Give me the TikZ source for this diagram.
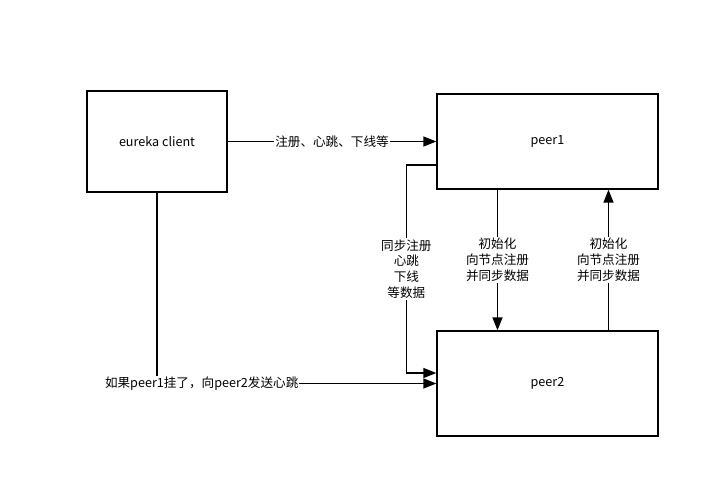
\documentclass[tikz,border=0pt]{standalone}
\usepackage{fontspec}
\setmainfont{Noto Sans CJK SC}
\usetikzlibrary{arrows.meta}
\begin{document}
\begin{tikzpicture}[x=1pt, y=-1pt, line width=1.3pt,
			font=\fontsize{12.6}{15.8}\selectfont,
			box/.style={rectangle, draw, inner sep=0pt},
			arr/.style={-{Triangle[length=13pt, width=10pt]}},
			lbl/.style={fill=white, inner sep=1pt, align=center}]
		\useasboundingbox (0,0) rectangle (724,495);
		% the three boxes
		\node[box, minimum width=140pt, minimum height=101pt] (client) at (157,141.5) {eureka client};
		\node[box, minimum width=221pt, minimum height=95pt]  (peer1)  at (547.5,141.5) {peer1};
		\node[box, minimum width=221pt, minimum height=105pt] (peer2)  at (547.5,383.5) {peer2};
		% client to peer1
		\draw[arr] (client.east) -- (peer1.west) node[lbl, midway] {注册、心跳、下线等};
		% peer1 syncs to peer2
		\draw[arr] ([yshift=-23.5pt]peer1.west) -- ++(-30pt,0)
			|- node[lbl, pos=0.25] {同步注册\\心跳\\下线\\等数据} ([yshift=10.5pt]peer2.west);
		\draw[arr] ([xshift=-50pt]peer1.south) -- ([xshift=-50pt]peer2.north)
			node[lbl, midway] {初始化\\向节点注册\\并同步数据};
		\draw[arr] ([xshift=61pt]peer2.north) -- ([xshift=61pt]peer1.south)
			node[lbl, midway] {初始化\\向节点注册\\并同步数据};
		% fallback from client to peer2
		\draw[arr] (client.south) |- node[lbl, pos=0.58] {如果peer1挂了，向peer2发送心跳} (peer2.west);
	\end{tikzpicture}
\end{document}
